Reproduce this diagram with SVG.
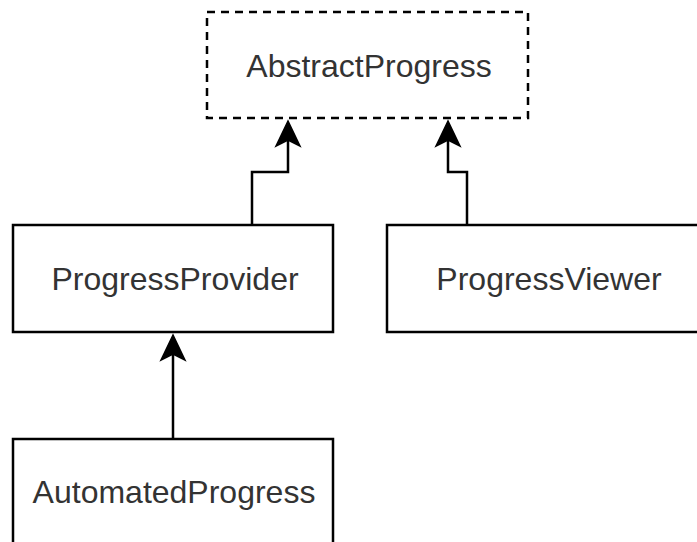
<svg xmlns="http://www.w3.org/2000/svg" width="697" height="542" viewBox="0 0 697 542">
  <style>
    .box { fill: #ffffff; stroke: #000000; stroke-width: 2.5; }
    .dashed { stroke-dasharray: 8 6; }
    .label { font-family: "Liberation Sans", Arial, sans-serif; font-size: 32px; fill: #333333; text-anchor: middle; }
    .edge { fill: none; stroke: #000000; stroke-width: 2.5; }
    .head { fill: #000000; stroke: #000000; stroke-width: 1.5; stroke-linejoin: miter; }
  </style>
  <rect width="697" height="542" fill="#ffffff"/>

  <g id="node-abstract-progress">
    <rect class="box dashed" x="207" y="12" width="321" height="106"/>
    <text class="label" x="369" y="77">AbstractProgress</text>
  </g>

  <g id="node-progress-provider">
    <rect class="box" x="13" y="225" width="320" height="107"/>
    <text class="label" x="175" y="290">ProgressProvider</text>
  </g>

  <g id="node-progress-viewer">
    <rect class="box" x="387" y="225" width="320" height="107"/>
    <text class="label" x="549" y="290">ProgressViewer</text>
  </g>

  <g id="node-automated-progress">
    <rect class="box" x="13" y="439" width="320" height="107"/>
    <text class="label" x="174" y="503">AutomatedProgress</text>
  </g>

  <g id="connectors">
    <path class="edge" d="M252 225 V172 H288 V140"/>
    <path class="head" d="M288 121 L276 146 L288 140 L300 146 Z"/>

    <path class="edge" d="M467 225 V172 H448 V140"/>
    <path class="head" d="M448 121 L436 146 L448 140 L460 146 Z"/>

    <path class="edge" d="M173 439 V354"/>
    <path class="head" d="M173 335 L161 360 L173 354 L185 360 Z"/>
  </g>
</svg>
